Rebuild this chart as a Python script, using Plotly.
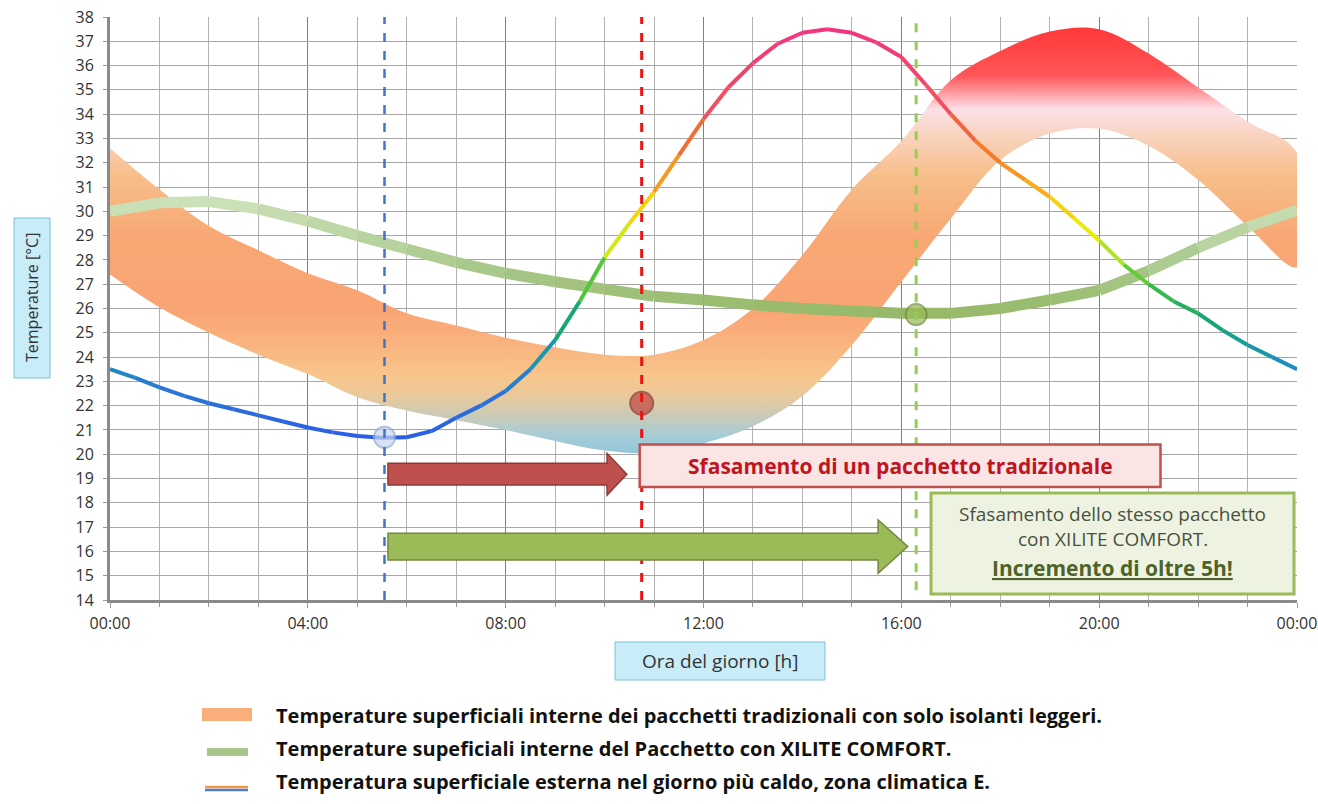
import plotly.graph_objects as go
import plotly.colors as pc

# ---------------- data ----------------
hours_half = [i * 0.5 for i in range(49)]
t_ext = [23.5, 23.15, 22.75, 22.4, 22.1, 21.85, 21.6, 21.35, 21.1, 20.9,
         20.75, 20.68, 20.7, 20.95, 21.5, 22.0, 22.6, 23.5, 24.7, 26.3,
         28.1, 29.5, 30.8, 32.3, 33.8, 35.1, 36.1, 36.9, 37.35, 37.5,
         37.35, 36.95, 36.35, 35.2, 34.0, 32.9, 32.0, 31.3, 30.6, 29.7,
         28.8, 27.8, 27.0, 26.3, 25.8, 25.1, 24.5, 24.0, 23.5]

hours = list(range(25))
band_upper = [32.6, 30.9, 29.4, 28.4, 27.45, 26.75, 25.8, 25.3, 24.8, 24.4,
              24.1, 24.1, 24.7, 26.0, 28.2, 30.9, 32.9, 35.4, 36.6, 37.4,
              37.5, 36.5, 35.1, 33.7, 32.4]
band_lower = [27.4, 26.05, 25.0, 24.1, 23.3, 22.35, 21.8, 21.4, 21.0, 20.55,
              20.15, 20.05, 20.45, 21.15, 22.4, 24.5, 27.1, 29.7, 32.1, 33.2,
              33.4, 32.7, 31.3, 29.4, 27.7]
t_xilite = [30.0, 30.35, 30.4, 30.1, 29.6, 29.0, 28.45, 27.9, 27.45, 27.1,
            26.8, 26.5, 26.35, 26.15, 26.0, 25.9, 25.8, 25.8, 26.0, 26.35,
            26.75, 27.55, 28.5, 29.35, 30.05]

# key instants (hours) and temperatures of the markers
t_min_ext, T_min_ext = 5.55, 20.7      # minimum external temperature
t_trad, T_trad = 10.75, 22.1            # traditional package response
t_xil, T_xil = 16.3, 25.75              # XILITE COMFORT response

x_tickvals = [0, 4, 8, 12, 16, 20, 24]
x_ticktext = ["00:00", "04:00", "08:00", "12:00", "16:00", "20:00", "00:00"]

legend_labels = [
    "Temperature superficiali interne dei pacchetti tradizionali con solo isolanti leggeri.",
    "Temperature supeficiali interne del Pacchetto con XILITE COMFORT.",
    "Temperatura superficiale esterna nel giorno più caldo, zona climatica E.",
]

FONT = "Open Sans"

# ---------------- colour scales ----------------
ext_scale = [
    [0.00, "#2A5CE6"], [0.12, "#2A74DA"], [0.21, "#1A95B0"],
    [0.29, "#15A57A"], [0.38, "#3CC040"], [0.47, "#C0E820"],
    [0.53, "#F5EE00"], [0.62, "#F8A820"], [0.71, "#F47828"],
    [0.82, "#F25060"], [1.00, "#F23480"],
]
ext_lo, ext_hi = 20.5, 37.5

xil_scale = [[0.0, "#96B866"], [0.4, "#A8C88A"], [1.0, "#CDE2BB"]]
xil_lo, xil_hi = 25.7, 30.5

band_lo, band_hi = 20.0, 37.6
band_stops = [
    (20.0, "#92C5DA"), (20.8, "#A8CDD6"), (21.6, "#CACBB6"), (22.4, "#EAC99C"),
    (23.2, "#F8C68C"), (24.5, "#F9B47F"), (26.0, "#F9A473"), (29.0, "#F8A874"),
    (31.5, "#F7BF8A"), (33.0, "#F9D2BC"), (34.2, "#FBE0E6"), (35.0, "#FF8E94"),
    (35.6, "#FF5558"), (37.6, "#FF3838"),
]
band_scale = [[(v - band_lo) / (band_hi - band_lo), c] for v, c in band_stops]


def col(scale, lo, hi, v):
    f = min(max((v - lo) / (hi - lo), 0), 1)
    return pc.sample_colorscale(scale, [f])[0]


fig = go.Figure()

# band (traditional packages) with vertical gradient
fig.add_trace(go.Scatter(
    x=hours + hours[::-1], y=band_upper + band_lower[::-1],
    mode="lines", fill="toself", line=dict(width=0, shape="spline"),
    fillgradient=dict(type="vertical", colorscale=band_scale,
                      start=band_lo, stop=band_hi),
    hoverinfo="skip", showlegend=False))

# XILITE line, coloured by value
for i in range(len(hours) - 1):
    v = (t_xilite[i] + t_xilite[i + 1]) / 2
    fig.add_trace(go.Scatter(
        x=hours[i:i + 2], y=t_xilite[i:i + 2], mode="lines",
        line=dict(width=11, color=col(xil_scale, xil_lo, xil_hi, v)),
        hoverinfo="skip", showlegend=False))

# external temperature line, coloured by value
for i in range(len(hours_half) - 1):
    v = (t_ext[i] + t_ext[i + 1]) / 2
    fig.add_trace(go.Scatter(
        x=hours_half[i:i + 2], y=t_ext[i:i + 2], mode="lines",
        line=dict(width=4, color=col(ext_scale, ext_lo, ext_hi, v)),
        hoverinfo="skip", showlegend=False))

# markers
fig.add_trace(go.Scatter(
    x=[t_min_ext, t_trad, t_xil], y=[T_min_ext, T_trad, T_xil], mode="markers",
    marker=dict(size=[21, 23, 21],
                color=["#C9D7F0", "#C0453F", "#9BBB59"],
                line=dict(color=["#8FA9D6", "#8C2F2D", "#6E8B3D"], width=2)),
    hoverinfo="skip", showlegend=False))

shapes = []
# dashed vertical lines
shapes.append(dict(type="line", xref="x", yref="y", x0=t_min_ext, x1=t_min_ext,
                   y0=14, y1=38, line=dict(color="#4472C4", width=2.5, dash="dash")))
shapes.append(dict(type="line", xref="x", yref="y", x0=t_trad, x1=t_trad,
                   y0=14, y1=38, line=dict(color="#EE1111", width=3, dash="dash")))
shapes.append(dict(type="line", xref="x", yref="y", x0=t_xil, x1=t_xil,
                   y0=14.4, y1=38, line=dict(color="#92D050", width=3, dash="dash")))


def arrow_path(x0, x1, yc, sh, hh, hl):
    xb = x1 - hl
    return (f"M {x0},{yc - sh} L {xb},{yc - sh} L {xb},{yc - hh} L {x1},{yc} "
            f"L {xb},{yc + hh} L {xb},{yc + sh} L {x0},{yc + sh} Z")


shapes.append(dict(type="path", xref="x", yref="y",
                   path=arrow_path(t_min_ext + 0.07, t_trad - 0.3, 19.18, 0.45, 0.86, 0.4),
                   fillcolor="#C0504D", line=dict(color="#8C3A38", width=1.5)))
shapes.append(dict(type="path", xref="x", yref="y",
                   path=arrow_path(t_min_ext + 0.07, t_xil - 0.17, 16.2, 0.55, 1.1, 0.6),
                   fillcolor="#9BBB59", line=dict(color="#71893F", width=1.5)))

# boxes
red_box = (t_trad - 0.04, 21.24, 18.65, 20.4)
green_box = (16.6, 23.94, 14.25, 18.4)
shapes.append(dict(type="rect", xref="x", yref="y", x0=red_box[0], x1=red_box[1],
                   y0=red_box[2], y1=red_box[3], fillcolor="#FBE4E4",
                   line=dict(color="#C0504D", width=2.5)))
shapes.append(dict(type="rect", xref="x", yref="y", x0=green_box[0], x1=green_box[1],
                   y0=green_box[2], y1=green_box[3], fillcolor="#EEF3E1",
                   line=dict(color="#9BBB59", width=3)))

W, H = 1318, 804
PL, PR, PT, PB = 110, 1297, 17, 600   # plot area in pixels


def px(xp):
    return (xp - PL) / (PR - PL)


def py(yp):
    return (PB - yp) / (PB - PT)


# axis title boxes
shapes.append(dict(type="rect", xref="paper", yref="paper", x0=px(14), x1=px(50),
                   y0=py(378), y1=py(218), fillcolor="#C8ECF8",
                   line=dict(color="#7CC0DA", width=1)))
shapes.append(dict(type="rect", xref="paper", yref="paper", x0=px(615), x1=px(825),
                   y0=py(680), y1=py(642), fillcolor="#C8ECF8",
                   line=dict(color="#7CC0DA", width=1)))

# legend swatches
shapes.append(dict(type="rect", xref="paper", yref="paper", x0=px(202), x1=px(252),
                   y0=py(721), y1=py(708), fillcolor="#F9AE7C", line=dict(width=0)))
shapes.append(dict(type="line", xref="paper", yref="paper", x0=px(207), x1=px(248),
                   y0=py(752), y1=py(752), line=dict(color="#A9C68C", width=8)))
shapes.append(dict(type="line", xref="paper", yref="paper", x0=px(205), x1=px(248),
                   y0=py(787), y1=py(787), line=dict(color="#F79646", width=2.5)))
shapes.append(dict(type="line", xref="paper", yref="paper", x0=px(205), x1=px(248),
                   y0=py(790), y1=py(790), line=dict(color="#4F81BD", width=2.5)))

annotations = []
annotations.append(dict(xref="x", yref="y", x=(red_box[0] + red_box[1]) / 2,
                        y=(red_box[2] + red_box[3]) / 2,
                        xanchor="center", yanchor="middle",
                        text="<b>Sfasamento di un pacchetto tradizionale</b>",
                        showarrow=False, font=dict(family=FONT, size=21, color="#C0141E")))
gx = (green_box[0] + green_box[1]) / 2
annotations.append(dict(xref="x", yref="y", x=gx, y=17.55,
                        xanchor="center", yanchor="middle",
                        text="Sfasamento dello stesso pacchetto",
                        showarrow=False, font=dict(family=FONT, size=19, color="#4A5040")))
annotations.append(dict(xref="x", yref="y", x=gx, y=16.5,
                        xanchor="center", yanchor="middle",
                        text="con XILITE COMFORT.",
                        showarrow=False, font=dict(family=FONT, size=19, color="#4A5040")))
annotations.append(dict(xref="x", yref="y", x=gx, y=15.3,
                        xanchor="center", yanchor="middle",
                        text="<b><u>Incremento di oltre 5h!</u></b>",
                        showarrow=False, font=dict(family=FONT, size=21, color="#4F6228")))
annotations.append(dict(xref="paper", yref="paper", x=px(32), y=py(298),
                        xanchor="center", yanchor="middle",
                        text="Temperature [°C]", textangle=-90, showarrow=False,
                        font=dict(family=FONT, size=16, color="#333333")))
annotations.append(dict(xref="paper", yref="paper", x=px(720), y=py(661),
                        xanchor="center", yanchor="middle",
                        text="Ora del giorno [h]", showarrow=False,
                        font=dict(family=FONT, size=19, color="#333333")))
for lab, yp in zip(legend_labels, [715, 748, 781]):
    annotations.append(dict(xref="paper", yref="paper", x=px(274), y=py(yp),
                            xanchor="left", yanchor="middle", text=f"<b>{lab}</b>",
                            showarrow=False,
                            font=dict(family=FONT, size=20, color="#111111")))

fig.update_layout(
    width=W, height=H,
    margin=dict(l=PL, r=W - PR, t=PT, b=H - PB, autoexpand=False),
    paper_bgcolor="white", plot_bgcolor="white",
    font=dict(family=FONT, color="#404040"),
    shapes=shapes, annotations=annotations,
    xaxis=dict(range=[0, 24], tickvals=x_tickvals, ticktext=x_ticktext,
               showgrid=True, gridcolor="#7F7F7F", gridwidth=1,
               minor=dict(dtick=1, showgrid=True, gridcolor="#B3B3B3",
                          ticks="outside", ticklen=4, tickcolor="#9A9A9A"),
               ticks="outside", ticklen=5, tickcolor="#9A9A9A",
               showline=True, linecolor="#8A8A8A", linewidth=3,
               tickfont=dict(family=FONT, size=16, color="#333333"),
               ticklabelstandoff=2, ticklabeloverflow="allow",
               automargin=False, zeroline=False, fixedrange=True),
    yaxis=dict(range=[14, 38], dtick=1, showgrid=True, gridcolor="#A6A6A6",
               gridwidth=1, ticks="outside", ticklen=4, tickcolor="#9A9A9A",
               showline=True, linecolor="#8A8A8A", linewidth=3,
               tickfont=dict(family=FONT, size=16, color="#333333"),
               ticklabelstandoff=6, ticklabeloverflow="allow",
               automargin=False, zeroline=False, fixedrange=True),
    showlegend=False,
)

# remove the default 8px page margin so the figure fills the window exactly
fig.write_html("out.html",
               config={"displayModeBar": False},
               post_script="document.body.style.margin='0';document.body.style.overflow='hidden';")
